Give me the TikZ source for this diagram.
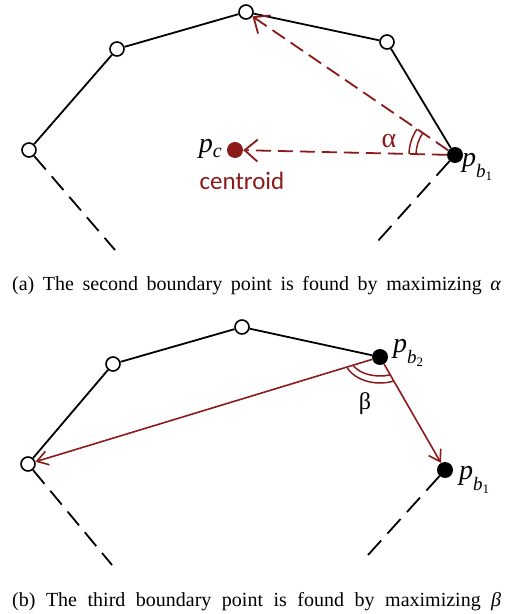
\documentclass[tikz,border=0pt]{standalone}
\usepackage{fontspec}
\setmainfont{Liberation Serif}
\newfontfamily\calib{Carlito}
\usetikzlibrary{arrows.meta}
\definecolor{dred}{RGB}{139,26,26}
\newcommand{\pbsub}[1]{\textit{p}\raisebox{-11pt}{\fontsize{19}{19}\selectfont\itshape b\raisebox{-3pt}{\fontsize{13}{13}\selectfont\upshape #1}}}
\begin{document}
\begin{tikzpicture}[x=1pt,y=1pt,
  vtx/.style={circle,draw=black,fill=white,line width=1.6pt,minimum size=14pt,inner sep=0pt},
  bpt/.style={circle,fill=black,minimum size=16pt,inner sep=0pt},
  cpt/.style={circle,fill=dred,minimum size=16pt,inner sep=0pt},
  edgeline/.style={line width=1.8pt},
  tailline/.style={line width=1.8pt,dash pattern=on 18pt off 9pt},
  tailr/.style={line width=1.8pt,dash pattern=on 19.5pt off 9.5pt},
  rdash/.style={dred,line width=1.8pt,dash pattern=on 15pt off 7pt,-{Straight Barb[length=13pt,width=22pt,line width=1.8pt]}},
  rarr/.style={dred,line width=1.6pt,-{Straight Barb[length=11pt,width=14pt,line width=1.6pt]}},
  angarc/.style={dred,line width=1.5pt},
  lbl/.style={font=\fontsize{28}{28}\selectfont,inner sep=0pt},
  captxt/.style={font=\fontsize{20}{20}\selectfont,inner sep=0pt,anchor=base west}]
\useasboundingbox (0,0) rectangle (513,614);
% ---------- (a) ----------
\node[vtx] (a1) at (29,464) {};
\node[vtx] (a2) at (117,565) {};
\node[vtx] (a3) at (246,602) {};
\node[vtx] (a4) at (387,572) {};
\node[bpt] (ab1) at (455,459) {};
\node[cpt] (ac) at (235,464) {};
\coordinate (aL) at (115,364);
\coordinate (aR) at (377,372);
\draw[edgeline] (a1) -- (a2) -- (a3) -- (a4) -- (ab1);
\draw[tailline] (a1) -- (aL);
\draw[tailr] (ab1) -- (aR);
\draw[rdash] (ab1) -- (a3);
\draw[rdash] (ab1) -- (ac);
\draw[angarc] ([shift={(145.6:39)}]ab1.center) arc[start angle=145.6, end angle=178.7, radius=39];
\draw[angarc] ([shift={(145.6:46)}]ab1.center) arc[start angle=145.6, end angle=178.7, radius=46];
\node[lbl,anchor=base east] (pc) at (222,461) {\textit{p}\raisebox{-5pt}{\fontsize{20}{20}\selectfont\itshape c}};
\node[lbl,anchor=base,dred] (alpha) at (389,466) {α};
\node[font=\calib\fontsize{25}{25}\selectfont,text=dred,inner sep=0pt,anchor=base] (cen) at (242,424) {centroid};
\node[lbl,anchor=base west] (pb1a) at (462,447) {\pbsub{1}};
\node[captxt] (capa) at (12,323) {\makebox[489pt][s]{(a) The second boundary point is found by maximizing \textit{α}}};
% ---------- (b) ----------
\node[vtx] (b1) at (28,150) {};
\node[vtx] (b2) at (113,250) {};
\node[vtx] (b3) at (242,287) {};
\node[bpt] (bb2) at (380,257) {};
\node[bpt] (bb1) at (445,144) {};
\coordinate (bL) at (112,49);
\coordinate (bR) at (368,59);
\draw[edgeline] (b1) -- (b2) -- (b3) -- (bb2);
\draw[tailline] (b1) -- (bL);
\draw[tailr] (bb1) -- (bR);
\draw[rarr] (bb2) -- (b1);
\draw[rarr] (bb2) -- (bb1);
\draw[angarc] ([shift={(202.8:36 and 26)}]bb2.center) arc[start angle=202.8, end angle=292.2, x radius=36, y radius=26];
\draw[angarc] ([shift={(205.6:30 and 19)}]bb2.center) arc[start angle=205.6, end angle=289.7, x radius=30, y radius=19];
\node[lbl,anchor=base,font=\fontsize{24}{24}\selectfont] (beta) at (365,204) {β};
\node[lbl,anchor=base west] (pb2) at (393,261) {\pbsub{2}};
\node[lbl,anchor=base west] (pb1b) at (459,134) {\pbsub{1}};
\node[captxt] (capb) at (12,8) {\makebox[489pt][s]{(b) The third boundary point is found by maximizing \textit{β}}};
\end{tikzpicture}
\end{document}
